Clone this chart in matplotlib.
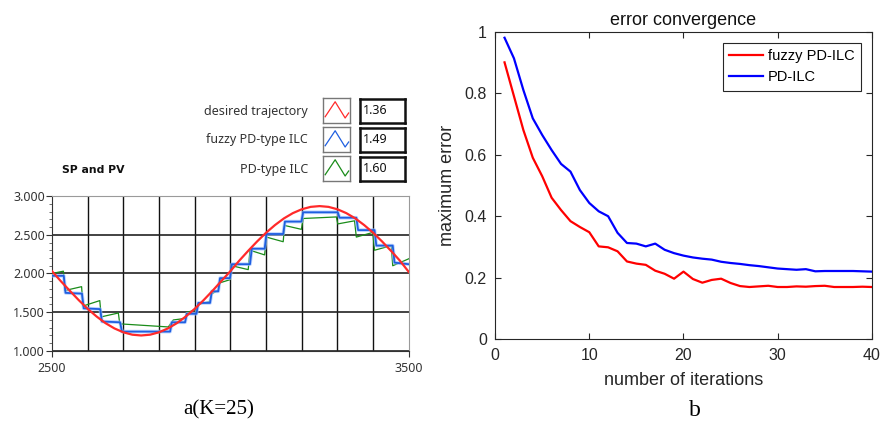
import numpy as np
import matplotlib
matplotlib.use('Agg')
import matplotlib.pyplot as plt
from matplotlib.ticker import MultipleLocator, FixedLocator, FormatStrFormatter

# panel a: SP and PV, samples 2500..3500
sp_x = list(range(2500, 3501, 25))
sp_y = [2.03, 1.90, 1.777, 1.656, 1.544, 1.445, 1.359, 1.291, 1.241, 1.210,
        1.200, 1.210, 1.241, 1.291, 1.359, 1.445, 1.544, 1.656, 1.777, 1.904,
        2.030, 2.166, 2.293, 2.414, 2.526, 2.625, 2.711, 2.779, 2.829, 2.860,
        2.870, 2.860, 2.829, 2.779, 2.711, 2.625, 2.526, 2.414, 2.293, 2.166,
        2.02]

fuzzy_x = [2500, 2533, 2538, 2584, 2589, 2635, 2640, 2691, 2696, 2831,
           2836, 2873, 2878, 2905, 2910, 2943, 2948, 2966, 2971, 2999,
           3004, 3055, 3060, 3096, 3101, 3148, 3153, 3199, 3204, 3301,
           3306, 3353, 3358, 3404, 3409, 3455, 3460, 3500]
fuzzy_y = [1.97, 1.97, 1.75, 1.74, 1.55, 1.54, 1.38, 1.37, 1.25, 1.25,
           1.37, 1.37, 1.48, 1.48, 1.62, 1.62, 1.77, 1.77, 1.94, 1.94,
           2.12, 2.12, 2.32, 2.32, 2.51, 2.51, 2.67, 2.67, 2.79, 2.79,
           2.72, 2.72, 2.56, 2.56, 2.36, 2.36, 2.14, 2.12]

pd_x = [2500, 2532, 2536, 2583, 2587, 2634, 2638, 2686, 2690, 2826,
        2840, 2873, 2878, 2905, 2910, 2943, 2948, 2966, 2971, 2999,
        3004, 3050, 3055, 3096, 3101, 3148, 3152, 3199, 3204, 3297,
        3301, 3348, 3353, 3399, 3404, 3451, 3455, 3500]
pd_y = [2.00, 2.03, 1.78, 1.83, 1.58, 1.65, 1.44, 1.49, 1.35, 1.31,
        1.40, 1.42, 1.50, 1.53, 1.60, 1.64, 1.74, 1.78, 1.88, 1.92,
        2.10, 2.05, 2.30, 2.24, 2.47, 2.41, 2.62, 2.57, 2.71, 2.73,
        2.64, 2.68, 2.47, 2.53, 2.30, 2.36, 2.10, 2.19]

legend_names = ['desired trajectory', 'fuzzy PD-type ILC', 'PD-type ILC']
legend_values = ['1.36', '1.49', '1.60']

# panel b: error convergence
iterations = list(range(1, 41))
err_fuzzy = [0.90, 0.79, 0.68, 0.59, 0.53, 0.46, 0.42, 0.384, 0.365, 0.348,
             0.302, 0.299, 0.286, 0.253, 0.246, 0.242, 0.223, 0.213, 0.197, 0.220,
             0.196, 0.184, 0.193, 0.197, 0.183, 0.173, 0.170, 0.172, 0.174, 0.170,
             0.170, 0.172, 0.171, 0.173, 0.174, 0.170, 0.170, 0.170, 0.171, 0.170]
err_pd = [0.98, 0.913, 0.81, 0.718, 0.664, 0.615, 0.57, 0.545, 0.485, 0.443,
          0.416, 0.400, 0.346, 0.313, 0.311, 0.302, 0.311, 0.291, 0.280, 0.272,
          0.266, 0.262, 0.259, 0.252, 0.248, 0.245, 0.241, 0.238, 0.234, 0.230,
          0.228, 0.226, 0.228, 0.221, 0.222, 0.222, 0.222, 0.222, 0.221, 0.220]

fig = plt.figure(figsize=(8.81, 4.28), dpi=100)
lv_font = 'Noto Sans'
txt = '#333333'

# ---------- left panel ----------
ax = fig.add_axes([0.059, 0.180, 0.405, 0.362])
ax.plot(sp_x, sp_y, color='#ff2a2a', lw=1.6, zorder=5)
ax.plot(pd_x, pd_y, color='#1a8c1a', lw=0.9, zorder=3)
ax.plot(fuzzy_x, fuzzy_y, color='#9ec0ff', lw=2.6, alpha=0.7, zorder=3.5)
ax.plot(fuzzy_x, fuzzy_y, color='#1f5fe0', lw=1.3, zorder=4)
ax.set_xlim(2500, 3500)
ax.set_ylim(1.0, 3.0)
ax.xaxis.set_major_locator(FixedLocator([2500, 3500]))
ax.xaxis.set_minor_locator(MultipleLocator(100))
ax.yaxis.set_major_locator(MultipleLocator(0.5))
ax.yaxis.set_minor_locator(MultipleLocator(0.1))
ax.yaxis.set_major_formatter(FormatStrFormatter('%.3f'))
ax.grid(True, which='minor', axis='x', color='#111111', lw=1.0)
ax.grid(True, which='major', axis='y', color='#222222', lw=1.2)
ax.tick_params(axis='x', which='minor', length=0)
ax.tick_params(axis='x', which='major', length=4, color='#333333', pad=4)
ax.tick_params(axis='y', which='major', length=4, color='#333333', pad=1)
ax.tick_params(axis='y', which='minor', length=2, color='#555555')
for lab in ax.get_xticklabels() + ax.get_yticklabels():
    lab.set_fontfamily(lv_font)
    lab.set_fontsize(9)
    lab.set_color(txt)
for s in ['top', 'right']:
    ax.spines[s].set_color('#9a9a9a')
for s in ['left', 'bottom']:
    ax.spines[s].set_color('#333333')

fig.text(62 / 881, 1 - 170 / 428, 'SP and PV', fontfamily='DejaVu Sans', fontsize=7.8,
         fontweight='bold', color='#111111', va='center', ha='left')

line_cols = ['#ff2a2a', '#1f5fe0', '#1a8c1a']
rows_y = [111, 140, 169]
for name, val, col, ry in zip(legend_names, legend_values, line_cols, rows_y):
    fig.text(308 / 881, 1 - ry / 428, name, fontfamily=lv_font, fontsize=9,
             color=txt, ha='right', va='center')
    icon = fig.add_axes([323 / 881, 1 - (ry + 12) / 428, 27 / 881, 25 / 428])
    icon.plot([0.08, 0.45, 0.82, 0.95], [0.25, 0.85, 0.2, 0.4], color=col, lw=0.9)
    icon.set_xlim(0, 1)
    icon.set_ylim(0, 1)
    icon.set_xticks([])
    icon.set_yticks([])
    for s in icon.spines.values():
        s.set_color('#777777')
        s.set_linewidth(1.0)
    fig.text(363 / 881, 1 - ry / 428, val, fontfamily=lv_font, fontsize=9,
             color='#111111', ha='left', va='center')
    box = fig.add_axes([360 / 881, 1 - (ry + 12) / 428, 45 / 881, 24 / 428])
    box.set_xticks([])
    box.set_yticks([])
    box.patch.set_alpha(0)
    for s in box.spines.values():
        s.set_color('#111111')
        s.set_linewidth(1.8)

fig.text(219 / 881, 1 - 410 / 428, 'a(K=25)', fontfamily='Liberation Serif',
         fontsize=15, ha='center', va='center')

# ---------- right panel ----------
bx = fig.add_axes([0.562, 0.2072, 0.4276, 0.719])
bx.plot(iterations, err_fuzzy, color='#ff0000', lw=1.6, label='fuzzy PD-ILC')
bx.plot(iterations, err_pd, color='#0000ff', lw=1.6, label='PD-ILC')
bx.set_xlim(0, 40)
bx.set_ylim(0, 1)
bx.set_xticks([0, 10, 20, 30, 40])
bx.set_yticks([0, 0.2, 0.4, 0.6, 0.8, 1])
bx.set_yticklabels(['0', '0.2', '0.4', '0.6', '0.8', '1'])
bx.tick_params(direction='in', top=True, right=True, length=4, width=0.8,
               labelsize=11.5, colors='#262626', pad=6)
for s in bx.spines.values():
    s.set_color('#262626')
    s.set_linewidth(0.8)
for lab in bx.get_xticklabels() + bx.get_yticklabels():
    lab.set_fontfamily('Liberation Sans')
bx.set_title('error convergence', fontfamily='Liberation Sans', fontsize=13,
             color='#111111', pad=5)
bx.set_xlabel('number of iterations', fontfamily='Liberation Sans', fontsize=13,
              color='#262626', labelpad=7)
bx.set_ylabel('maximum error', fontfamily='Liberation Sans', fontsize=13,
              color='#262626', labelpad=6)
leg = bx.legend(loc='upper right', prop={'family': 'Liberation Sans', 'size': 10.5},
                frameon=True, fancybox=False, edgecolor='#262626', framealpha=1,
                handlelength=2.3, borderaxespad=0.75, labelspacing=0.5,
                handletextpad=0.35, borderpad=0.45)
leg.get_frame().set_linewidth(0.8)

fig.text(695 / 881, 1 - 410 / 428, 'b', fontfamily='Liberation Serif',
         fontsize=17, ha='center', va='center')

fig.savefig('out.png', dpi=100)
